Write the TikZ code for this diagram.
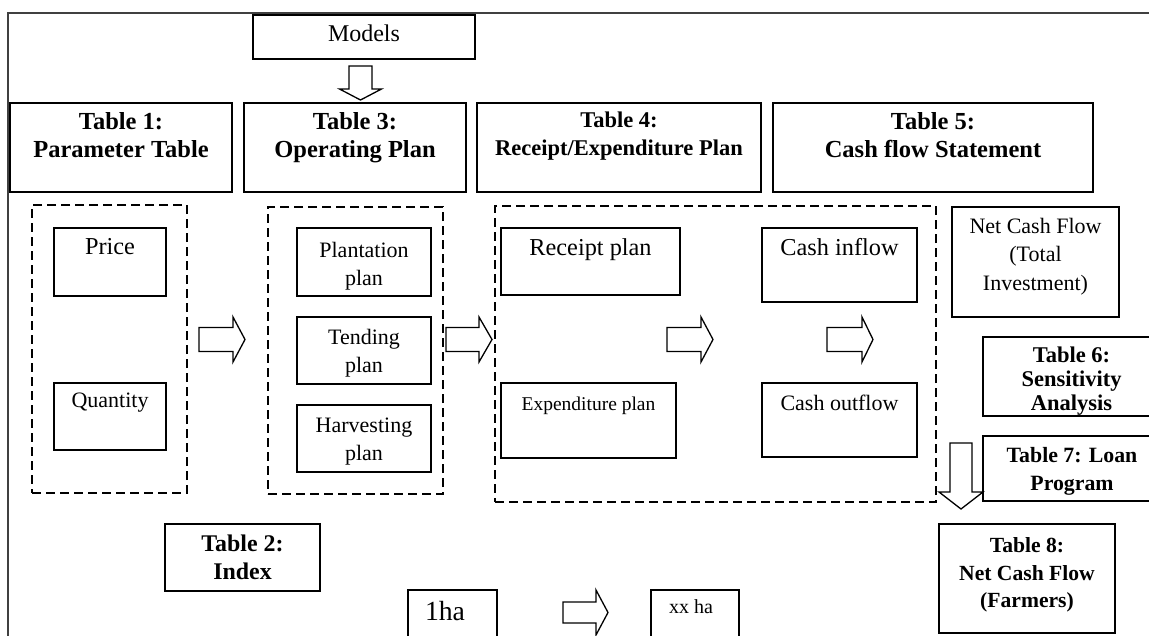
\documentclass[tikz,border=0pt]{standalone}
\usepackage{fontspec}
\setmainfont{Liberation Serif}
\usetikzlibrary{fit}
\tikzset{
  box/.style={draw, line width=1.5pt, inner sep=0pt},
  grp/.style={draw, line width=1.3pt, dash pattern=on 9pt off 5pt, inner sep=0pt},
  blk/.style={draw, line width=1.3pt, fill=white, line join=miter},
  lbl/.style={anchor=north, inner sep=0pt, align=center},
  frame/.style={line width=1.8pt, black!75},
}
\newcommand{\fs}[2]{\fontsize{#1}{#2}\selectfont}
% right block arrow: x start, head start, tip, y centre, shaft half, head half
\newcommand{\rarr}[6]{\draw[blk] ({#1},{#4-#5}) -- ({#2},{#4-#5}) -- ({#2},{#4-#6}) -- ({#3},{#4}) -- ({#2},{#4+#6}) -- ({#2},{#4+#5}) -- ({#1},{#4+#5}) -- cycle;}
% down block arrow: x centre, top, head start, tip, shaft half, head half
\newcommand{\darr}[6]{\draw[blk] ({#1-#5},{#2}) -- ({#1-#5},{#3}) -- ({#1-#6},{#3}) -- ({#1},{#4}) -- ({#1+#6},{#3}) -- ({#1+#5},{#3}) -- ({#1+#5},{#2}) -- cycle;}
\begin{document}
\begin{tikzpicture}[x=1pt,y=-1pt]
\useasboundingbox (0,0) rectangle (1149,635);
% outer frame
\draw[frame] (8,660) -- (8,13) -- (1160,13);

% Models
\node[box, fit={(253,15) (475,59)}] (models) {};
\node[lbl, font=\fs{24}{28}] at (364,25) {Models};
\darr{360.5}{66}{89}{100}{11.5}{21}

% top row of tables
\node[box, fit={(10,103) (232,192)}] (t1) {};
\node[lbl, font=\fs{24.5}{28}\bfseries] at (121,112) {Table 1:\\Parameter Table};
\node[box, fit={(244,103) (466,192)}] (t3) {};
\node[lbl, font=\fs{24.5}{28}\bfseries] at (355,112) {Table 3:\\Operating Plan};
\node[box, fit={(477,103) (761,192)}] (t4) {};
\node[lbl, font=\fs{22.5}{28}\bfseries] at (619,112) {Table 4:\\Receipt/Expenditure Plan};
\node[box, fit={(773,103) (1093,192)}] (t5) {};
\node[lbl, font=\fs{24.5}{28}\bfseries] at (933,112) {Table 5:\\Cash flow Statement};

% group 1
\node[grp, fit={(32,205) (187,493)}] (g1) {};
\node[box, fit={(54,228) (166,296)}] (price) {};
\node[lbl, font=\fs{24.3}{28}] at (110,238) {Price};
\node[box, fit={(54,383) (166,450)}] (qty) {};
\node[lbl, font=\fs{22}{28}] at (110,393) {Quantity};

\rarr{199}{233}{245}{339.5}{12}{22.5}

% group 2
\node[grp, fit={(268,207) (443,494)}] (g2) {};
\node[box, fit={(297,228) (431,296)}] (plant) {};
\node[lbl, font=\fs{22}{28}] at (364,242) {Plantation\\plan};
\node[box, fit={(297,317) (431,384)}] (tend) {};
\node[lbl, font=\fs{22}{28}] at (364,329) {Tending\\plan};
\node[box, fit={(297,405) (431,472)}] (harv) {};
\node[lbl, font=\fs{22}{28}] at (364,418) {Harvesting\\plan};

\rarr{446}{479}{492}{339.5}{12}{22.5}

% group 3
\node[grp, fit={(495,206) (936,502)}] (g3) {};
\node[box, fit={(501,228) (680,295)}] (rec) {};
\node[lbl, font=\fs{24.3}{28}] at (590.5,238) {Receipt plan};
\node[box, fit={(501,383) (676,458)}] (exp) {};
\node[lbl, font=\fs{19.5}{24}] at (588.5,397) {Expenditure plan};
\node[box, fit={(762,228) (917,302)}] (cin) {};
\node[lbl, font=\fs{24.3}{28}] at (839.5,238) {Cash inflow};
\node[box, fit={(762,383) (917,457)}] (cout) {};
\node[lbl, font=\fs{22}{28}] at (839.5,395) {Cash outflow};

\rarr{667}{701}{713}{339.5}{12}{22.5}
\rarr{827}{862}{873}{339.5}{12}{22.5}

% right column
\node[box, fit={(952,207) (1119,317)}] (ncf) {};
\node[lbl, font=\fs{22}{28.5}] at (1035.5,218) {Net Cash Flow\\(Total\\Investment)};
\node[box, fit={(983,337) (1160,416)}] (t6) {};
\node[lbl, font=\fs{22.5}{24}\bfseries] at (1071.5,347) {Table 6:\\Sensitivity\\Analysis};
\node[box, fit={(983,436) (1160,501)}] (t7) {};
\node[lbl, font=\fs{21.8}{28}\bfseries] at (1072,447) {Table 7: Loan\\Program};
\darr{961}{443}{492}{509}{11}{22}
\node[box, fit={(939,524) (1115,633)}] (t8) {};
\node[lbl, font=\fs{21.6}{27.5}\bfseries] at (1027,537.5) {Table 8:\\Net Cash Flow\\(Farmers)};

% bottom row
\node[box, fit={(165,524) (320,591)}] (t2) {};
\node[lbl, font=\fs{23.9}{28}\bfseries] at (242.5,535) {Table 2:\\Index};
\node[box, fit={(408,590) (497,645)}] (one) {};
\node[lbl, font=\fs{27.7}{30}] at (445,601) {1ha};
\rarr{563}{596}{608}{612.5}{10.5}{22.5}
\node[box, fit={(651,590) (739,645)}] (xx) {};
\node[lbl, font=\fs{20}{24}] at (691,599) {xx ha};
\end{tikzpicture}
\end{document}
